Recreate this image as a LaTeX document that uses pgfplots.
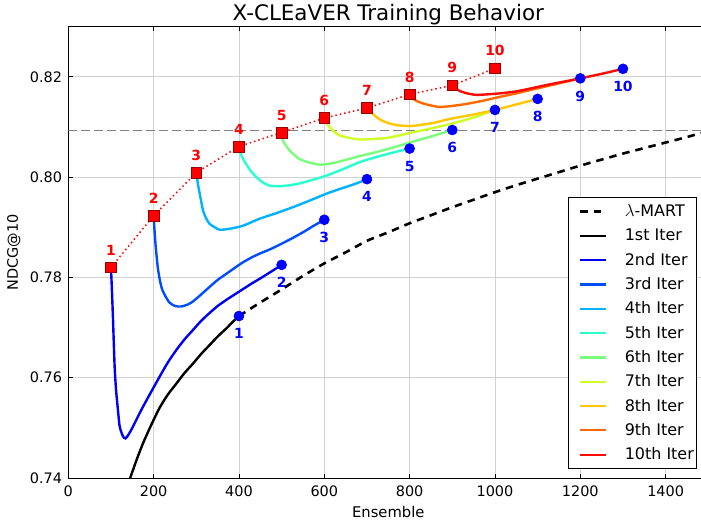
\documentclass[border=0pt]{standalone}
\usepackage{fontspec}
\setmainfont{DejaVu Sans}
\usepackage{pgfplots}
\pgfplotsset{compat=1.18}

% jet colours for iterations 2..10
\definecolor{jetA}{rgb}{0,0,0.955}
\definecolor{jetB}{rgb}{0,0.3,1}
\definecolor{jetC}{rgb}{0,0.7,1}
\definecolor{jetD}{rgb}{0.16,1,0.81}
\definecolor{jetE}{rgb}{0.48,1,0.48}
\definecolor{jetF}{rgb}{0.81,1,0.16}
\definecolor{jetG}{rgb}{1,0.78,0}
\definecolor{jetH}{rgb}{1,0.41,0}
\definecolor{jetI}{rgb}{1,0.04,0}
\definecolor{sqedge}{rgb}{0.6,0,0}

\begin{document}
\begin{tikzpicture}
\begin{axis}[
    scale only axis,
    width=640bp, height=451.3bp,
    xmin=0, xmax=1500, ymin=0.74, ymax=0.83,
    xtick={0,200,...,1400},
    ytick={0.74,0.76,0.78,0.80,0.82},
    tick align=inside,
    major tick length=4.5bp,
    every tick/.style={black, line width=0.8bp},
    axis line style={black, line width=1bp},
    grid=major,
    grid style={gray!35, line width=0.9bp},
    /pgf/number format/assume math mode=true,
    tick label style={font=\fontsize{14.5}{17}\selectfont},
    xticklabel style={anchor=base, yshift=-18bp, inner sep=0bp,
        /pgf/number format/set thousands separator={}},
    yticklabel style={anchor=east, xshift=-6bp, inner sep=0bp,
        /pgf/number format/.cd, fixed, fixed zerofill, precision=2},
    title={X-CLEaVER Training Behavior},
    every axis title shift=0pt,
    title style={at={(axis description cs:0.5,1)}, anchor=base, yshift=6bp,
        inner sep=0bp, font=\fontsize{21.5}{25}\selectfont},
    xlabel={Ensemble},
    xlabel style={at={(axis description cs:0.5,0)}, anchor=base, yshift=-39.3bp,
        inner sep=0bp, font=\fontsize{14.8}{17}\selectfont},
    ylabel={NDCG@10},
    ylabel style={at={(axis description cs:-0.0786,0.5)}, anchor=base,
        inner sep=0bp, font=\fontsize{14.5}{17}\selectfont},
    legend style={
        at={(axis description cs:0.9823,0.6226)}, anchor=north east,
        draw=black, line width=0.8bp, fill=white,
        inner xsep=2.7bp, inner ysep=7bp,
        row sep=10.33bp, column sep=17.3bp,
        font=\fontsize{16}{19}\selectfont,
        nodes={inner sep=0bp, text height=12bp, text depth=2bp},
        cells={anchor=west},
    },
    legend image code/.code={\path (0bp,0bp); \draw[#1, line width=2.2bp] (8bp,0bp) -- (34bp,0bp);},
    iter/.style={line width=2.4bp, smooth, tension=0.4},
]

% reference level
\addplot[forget plot, gray, line width=1.1bp, dash pattern=on 9bp off 4bp]
    coordinates {(0,0.8093) (1500,0.8093)};

% lambda-MART (continuation of the first iteration)
\addplot[black, line width=2.6bp, dash pattern=on 7.5bp off 6bp, smooth, tension=0.4] coordinates {
    (400,0.7723) (450,0.7750) (500,0.7776) (550,0.7803) (600,0.7828)
    (650,0.7850) (700,0.7873) (750,0.7890) (800,0.7908) (850,0.7924)
    (900,0.7940) (950,0.7955) (1000,0.7970) (1050,0.7984) (1100,0.7997)
    (1150,0.8010) (1200,0.8023) (1250,0.8035) (1300,0.8047) (1350,0.8058)
    (1400,0.8069) (1450,0.8080) (1500,0.8092)
};
\addlegendentry{$\lambda$-MART}

% start points, dotted
\addplot[forget plot, red, line width=1.5bp, dash pattern=on 1.5bp off 3bp] coordinates {
    (100,0.7820) (200,0.7923) (300,0.8009) (400,0.8061) (500,0.8089)
    (600,0.8118) (700,0.8138) (800,0.8165) (900,0.8183) (1000,0.8217)
};

\addplot[black, iter] coordinates {
    (138,0.7385) (145,0.7400) (160,0.7436) (175,0.7469) (195,0.7507)
    (214,0.7540) (233,0.7566) (253,0.7588) (272,0.7609) (292,0.7628)
    (311,0.7647) (331,0.7665) (350,0.7682) (370,0.7698) (385,0.7711)
    (400,0.7723)
};
\addlegendentry{1st Iter}

\addplot[jetA, iter] coordinates {
    (100,0.7820) (102,0.7780) (104.6,0.7721) (108.6,0.7622) (112,0.7575)
    (116.4,0.7535) (120,0.7505) (124,0.7492) (129,0.7482) (134,0.7479)
    (140,0.7485) (147.6,0.7496) (160,0.7517) (175,0.7542) (195,0.7573)
    (214,0.7602) (233,0.7630) (253,0.7655) (272,0.7676) (292,0.7695)
    (311,0.7713) (331,0.7729) (350,0.7743) (370,0.7755) (390,0.7766)
    (410,0.7777) (430,0.7788) (448,0.7797) (465,0.7806) (480,0.7814)
    (500,0.7825)
};
\addlegendentry{2nd Iter}

\addplot[jetB, iter] coordinates {
    (200,0.7923) (202,0.7895) (205,0.7860) (210,0.7818) (215,0.7793)
    (220,0.7776) (228,0.7762) (237,0.7750) (250,0.7743) (265,0.7742)
    (280,0.7746) (292,0.7752) (310,0.7765) (331,0.7781) (350,0.7795)
    (370,0.7807) (390,0.7819) (409,0.7830) (430,0.7840) (450,0.7848)
    (470,0.7855) (490,0.7863) (520,0.7876) (550,0.7890) (575,0.7903)
    (600,0.7915)
};
\addlegendentry{3rd Iter}

\addplot[jetC, iter] coordinates {
    (300,0.8009) (304,0.7985) (308,0.7967) (316,0.7933) (323,0.7918)
    (331,0.7907) (343,0.7900) (355,0.7895) (378,0.7897) (409,0.7903)
    (448,0.7917) (487,0.7928) (526,0.7940) (565,0.7953) (605,0.7967)
    (635,0.7976) (660,0.7983) (680,0.7989) (700,0.7996)
};
\addlegendentry{4th Iter}

\addplot[jetD, iter] coordinates {
    (400,0.8061) (405,0.8045) (411,0.8034) (417,0.8026) (428,0.8012)
    (441,0.8000) (455,0.7990) (472,0.7983) (490,0.7982) (511,0.7983)
    (540,0.7987) (566,0.7993) (605,0.8003) (644,0.8016) (683,0.8030)
    (722,0.8040) (761,0.8049) (800,0.8057)
};
\addlegendentry{5th Iter}

\addplot[jetE, iter] coordinates {
    (500,0.8089) (503,0.8073) (510,0.8063) (519,0.8053) (530,0.8044)
    (542,0.8036) (565,0.8029) (589,0.8025) (615,0.8027) (644,0.8033)
    (683,0.8042) (722,0.8050) (761,0.8059) (800,0.8069) (850,0.8081)
    (900,0.8094)
};
\addlegendentry{6th Iter}

\addplot[jetF, iter] coordinates {
    (600,0.8118) (606,0.8108) (613,0.8099) (624,0.8090) (636,0.8083)
    (660,0.8078) (683,0.8075) (715,0.8076) (745,0.8078) (775,0.8083)
    (800,0.8088) (850,0.8097) (900,0.8107) (950,0.8119) (1000,0.8134)
};
\addlegendentry{7th Iter}

\addplot[jetG, iter] coordinates {
    (700,0.8138) (707,0.8132) (714,0.8126) (725,0.8118) (737,0.8112)
    (757,0.8106) (777,0.8103) (800,0.8102) (816,0.8103) (855,0.8108)
    (894,0.8116) (950,0.8125) (1000,0.8134) (1050,0.8145) (1100,0.8156)
};
\addlegendentry{8th Iter}

\addplot[jetH, iter] coordinates {
    (800,0.8165) (806,0.8158) (816,0.8152) (835,0.8146) (850,0.8143)
    (870,0.8140) (900,0.8142) (933,0.8146) (970,0.8152) (1011,0.8160)
    (1050,0.8167) (1089,0.8175) (1130,0.8183) (1170,0.8191) (1200,0.8197)
};
\addlegendentry{9th Iter}

\addplot[jetI, iter] coordinates {
    (900,0.8183) (905,0.8179) (917,0.8172) (935,0.8167) (956,0.8164)
    (980,0.8165) (1011,0.8167) (1050,0.8171) (1090,0.8178) (1128,0.8185)
    (1165,0.8191) (1200,0.8197) (1250,0.8206) (1300,0.8216)
};
\addlegendentry{10th Iter}

% start markers with iteration numbers
\addplot[forget plot, only marks, mark=square*, mark size=5.3bp,
    mark options={fill=red, draw=sqedge, line width=0.6bp},
    point meta=explicit symbolic, nodes near coords, nodes near coords align=above,
    nodes near coords style={text=red, inner sep=0bp, yshift=11.9bp,
        font=\fontsize{14}{16}\selectfont\bfseries}]
    coordinates {
    (100,0.7820) [1] (200,0.7923) [2] (300,0.8009) [3] (400,0.8061) [4]
    (500,0.8089) [5] (600,0.8118) [6] (700,0.8138) [7] (800,0.8165) [8]
    (900,0.8183) [9] (1000,0.8217) [10]
};

% end markers with iteration numbers
\addplot[forget plot, only marks, mark=*, mark size=5bp,
    mark options={fill=blue, draw=blue, line width=0.6bp},
    point meta=explicit symbolic, nodes near coords, nodes near coords align=below,
    nodes near coords style={text=blue, inner sep=0bp, yshift=-12.3bp,
        font=\fontsize{14}{16}\selectfont\bfseries}]
    coordinates {
    (400,0.7723) [1] (500,0.7825) [2] (600,0.7915) [3] (700,0.7996) [4]
    (800,0.8057) [5] (900,0.8094) [6] (1000,0.8134) [7] (1100,0.8156) [8]
    (1200,0.8197) [9] (1300,0.8216) [10]
};
\end{axis}
\pgfresetboundingbox
\path[use as bounding box] (-68.3bp,-46bp) rectangle (632.7bp,478bp);
\end{tikzpicture}
\end{document}
